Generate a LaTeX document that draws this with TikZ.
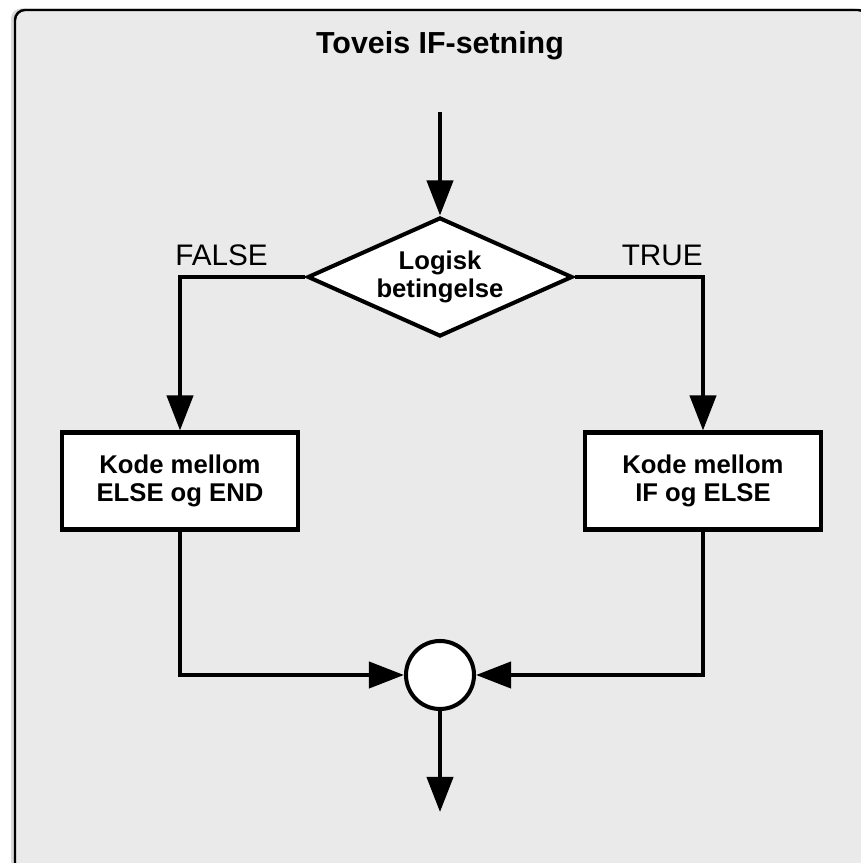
\documentclass[tikz,border=0pt]{standalone}
\usepackage{fontspec}
\setmainfont{Liberation Sans}
\usetikzlibrary{arrows.meta,shapes.geometric,shadows}
\definecolor{panelgray}{RGB}{234,234,234}

\begin{document}
\begin{tikzpicture}[
  flow/.style={line width=2.3pt,-{Triangle[length=0.7cm,width=0.52cm]}},
  codebox/.style={draw,line width=2.3pt,fill=white,minimum width=4.72cm,minimum height=1.94cm,
    align=center,font=\bfseries\fontsize{14.6}{16.4}\selectfont},
  branchlbl/.style={inner sep=0pt,font=\fontsize{16.9}{20}\selectfont}
]
  \useasboundingbox (0,0) rectangle (17.2,17.26);
  % panel
  \draw[line width=1.4pt,fill=panelgray,rounded corners=0.2cm,
    drop shadow={shadow xshift=-0.08cm,shadow yshift=0.03cm,opacity=0.3}]
    (0.3,-0.2) rectangle (17.36,17.06);
  \node[font=\bfseries\fontsize{17.3}{20}\selectfont] (title) at (8.8,16.34) {Toveis IF-setning};

  \coordinate (start) at (8.8,15.02);
  \node[draw,diamond,aspect=2.23,line width=2.3pt,fill=white,inner sep=0pt,minimum width=5.3cm,minimum height=2.38cm,
    align=center,font=\bfseries\fontsize{14.6}{16.4}\selectfont] (cond) at (8.8,11.72) {Logisk\\betingelse};
  \node[branchlbl,anchor=base west] (falselbl) at (3.5,11.94) {FALSE};
  \node[branchlbl,anchor=base east] (truelbl) at (14.06,11.94) {TRUE};

  \node[codebox] (elsebox) at (3.6,7.64) {Kode mellom\\ELSE og END};
  \node[codebox] (ifbox) at (14.06,7.64) {Kode mellom\\IF og ELSE};

  \node[draw,circle,line width=2.3pt,fill=white,minimum size=1.36cm,inner sep=0pt] (merge) at (8.8,3.76) {};
  \coordinate (exit) at (8.8,1.02);

  \draw[flow] (start) -- (cond.north);
  \draw[flow] (cond.west) -| (elsebox.north);
  \draw[flow] (cond.east) -| (ifbox.north);
  \draw[flow] (elsebox.south) |- (merge.west);
  \draw[flow] (ifbox.south) |- (merge.east);
  \draw[flow] (merge.south) -- (exit);
\end{tikzpicture}
\end{document}
